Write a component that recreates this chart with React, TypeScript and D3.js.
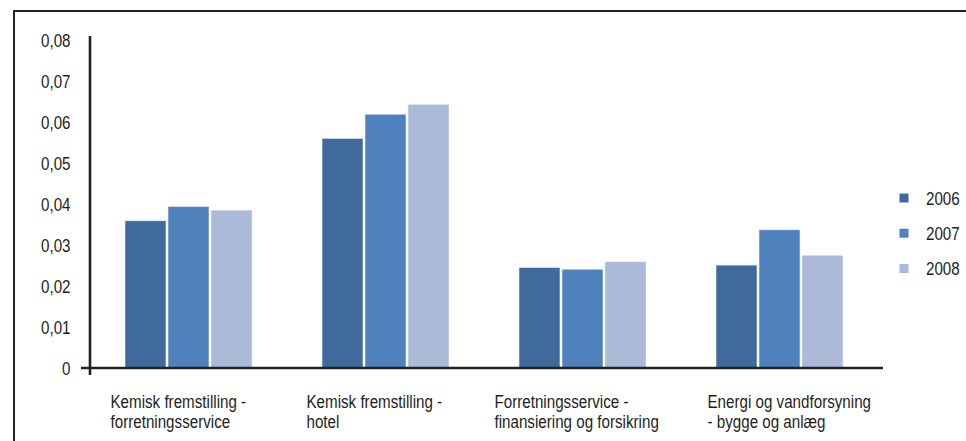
import React from "react";
import * as d3 from "d3";

// Category labels (two lines each) and yearly values
const categories = [
  ["Kemisk fremstilling -", "forretningsservice"],
  ["Kemisk fremstilling -", "hotel"],
  ["Forretningsservice -", "finansiering og forsikring"],
  ["Energi og vandforsyning", "- bygge og anlæg"],
];
const years = ["2006", "2007", "2008"];
const values2006 = [0.0359, 0.056, 0.0245, 0.0251];
const values2007 = [0.0394, 0.0619, 0.0241, 0.0337];
const values2008 = [0.0385, 0.0643, 0.0259, 0.0275];
const yTicks = [0, 0.01, 0.02, 0.03, 0.04, 0.05, 0.06, 0.07, 0.08];

const series = [values2006, values2007, values2008];
const colors = ["#416a9c", "#4f81bd", "#aabad8"];

// Layout
const W = 966;
const H = 441;
const plotLeft = 90;
const plotRight = 878;
const y0 = 368;
const yTop = 40;
const labelOffsets = [-78, -79, -88, -72];
const FONT = "'Liberation Sans', Arial, sans-serif";
const FS = 18.5;
const SX = 0.82;
const INK = "#222";
const TEXT = "#1e1e1e";

const fmt = (v: number) => (v === 0 ? "0" : d3.format(".2f")(v).replace(".", ","));

export default function App() {
  const catIdx = categories.map((_, i) => String(i));
  const x = d3.scaleBand<string>().domain(catIdx).range([plotLeft, plotRight]).padding(0);
  const groupW = 127;
  const xInner = d3
    .scaleBand<string>()
    .domain(years)
    .range([-groupW / 2, groupW / 2])
    .paddingInner(2 / 43)
    .paddingOuter(0);
  const y = d3.scaleLinear().domain([0, 0.08]).range([y0, yTop]);

  const legendX = 899.5;
  const legendY = d3.scalePoint<string>().domain(years).range([198, 268.5]);

  return (
    <svg
      width={W}
      height={H}
      style={{ position: "absolute", left: 0, top: 0, background: "#fff" }}
      fontFamily={FONT}
    >
      {/* outer frame */}
      <path d={`M14,${H + 5} V11 H${W + 5}`} fill="none" stroke={INK} strokeWidth={2} />

      {/* bars */}
      {categories.map((_, ci) => {
        const cx = (x(String(ci)) as number) + x.bandwidth() / 2;
        return (
          <g key={ci}>
            {years.map((yr, si) => {
              const v = series[si][ci];
              const bx = cx + (xInner(yr) as number);
              return (
                <rect
                  key={yr}
                  x={bx}
                  y={y(v)}
                  width={xInner.bandwidth()}
                  height={y0 - y(v)}
                  fill={colors[si]}
                  stroke="#e8edf5"
                  strokeWidth={0.6}
                />
              );
            })}
          </g>
        );
      })}

      {/* axes */}
      <line x1={plotLeft} x2={plotLeft} y1={36} y2={375} stroke={INK} strokeWidth={2.6} />
      <line x1={81} x2={883} y1={y0} y2={y0} stroke={INK} strokeWidth={2.6} />

      {/* y tick labels */}
      {yTicks.map((t) => (
        <text
          key={t}
          transform={`translate(70.5,${y(t) + 6.6}) scale(${SX},1)`}
          textAnchor="end"
          fontSize={FS}
          fill={TEXT}
        >
          {fmt(t)}
        </text>
      ))}

      {/* category labels */}
      {categories.map((lines, ci) => {
        const cx = (x(String(ci)) as number) + x.bandwidth() / 2 + labelOffsets[ci];
        return lines.map((ln, li) => (
          <text
            key={`${ci}-${li}`}
            transform={`translate(${cx},${408.3 + li * 20}) scale(${SX},1)`}
            fontSize={FS}
            fill={TEXT}
          >
            {ln}
          </text>
        ));
      })}

      {/* legend */}
      {years.map((yr, si) => {
        const ly = legendY(yr) as number;
        return (
          <g key={yr}>
            <rect x={legendX} y={ly - 4.5} width={9} height={9} fill={colors[si]} />
            <text
              transform={`translate(926,${ly + 6.6}) scale(${SX},1)`}
              fontSize={FS}
              fill={TEXT}
            >
              {yr}
            </text>
          </g>
        );
      })}
    </svg>
  );
}
